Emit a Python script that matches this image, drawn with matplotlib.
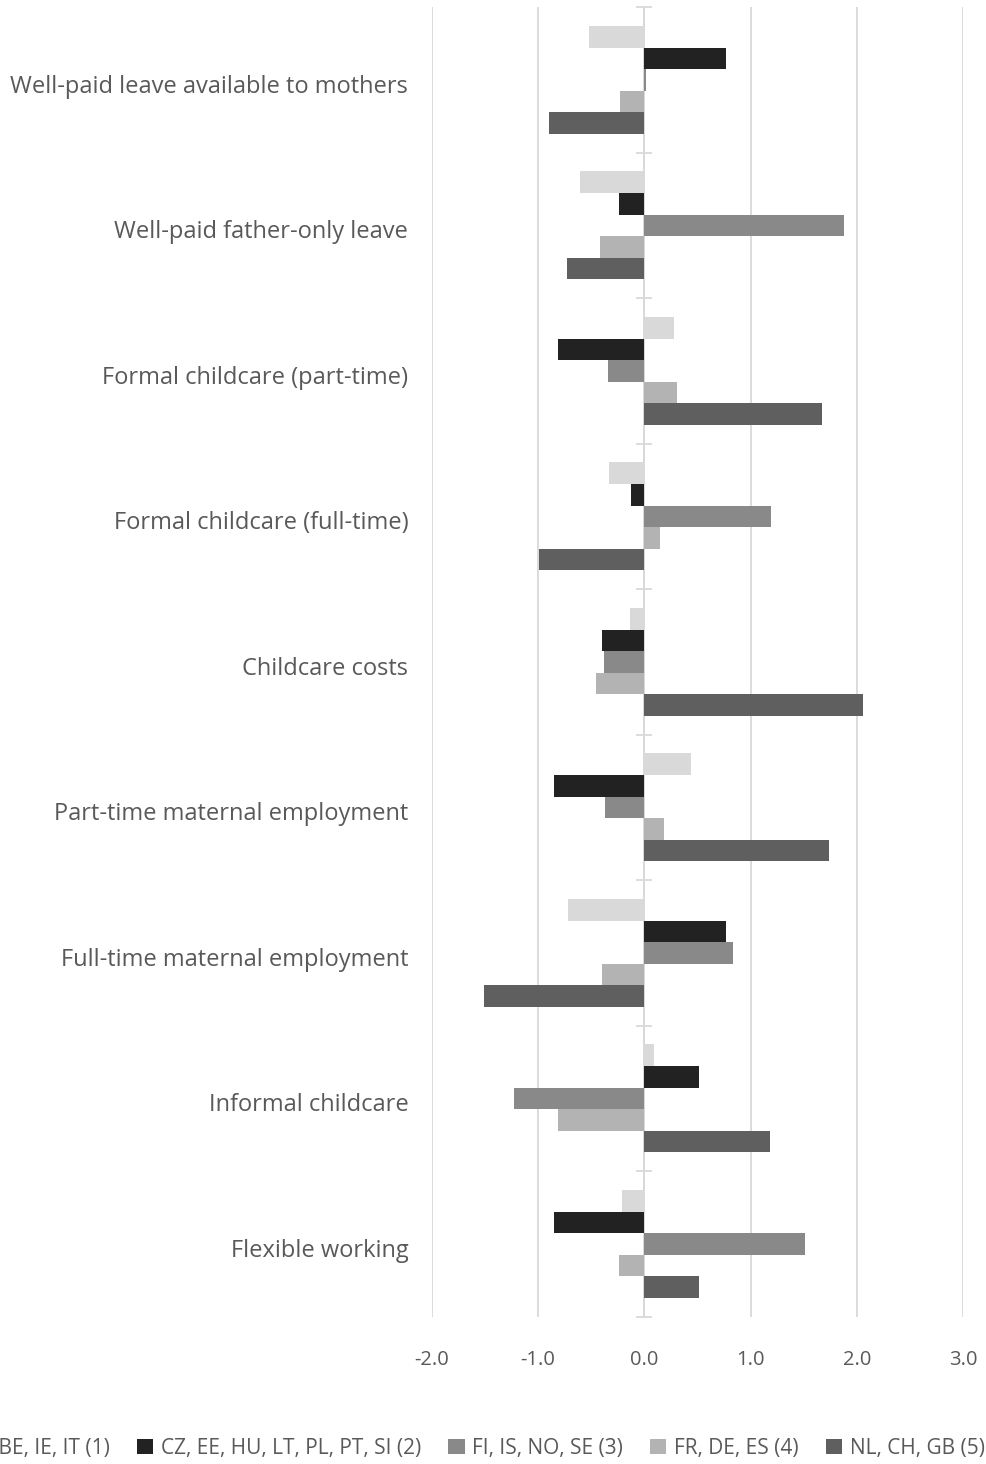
import matplotlib.pyplot as plt
from matplotlib.transforms import ScaledTranslation
import numpy as np

plt.rcParams['font.family'] = ['Open Sans', 'DejaVu Sans']

categories = [
    "Well-paid leave available to mothers",
    "Well-paid father-only leave",
    "Formal childcare (part-time)",
    "Formal childcare (full-time)",
    "Childcare costs",
    "Part-time maternal employment",
    "Full-time maternal employment",
    "Informal childcare",
    "Flexible working",
]

series_names = [
    "AT, BE, IE, IT (1)",
    "CZ, EE, HU, LT, PL, PT, SI (2)",
    "FI, IS, NO, SE (3)",
    "FR, DE, ES (4)",
    "NL, CH, GB (5)",
]

group1 = [-0.52, -0.61, 0.28, -0.33, -0.14, 0.44, -0.72, 0.09, -0.21]
group2 = [0.77, -0.24, -0.81, -0.13, -0.40, -0.85, 0.77, 0.51, -0.85]
group3 = [0.01, 1.88, -0.34, 1.19, -0.38, -0.37, 0.83, -1.23, 1.51]
group4 = [-0.23, -0.42, 0.31, 0.15, -0.46, 0.18, -0.40, -0.81, -0.24]
group5 = [-0.90, -0.73, 1.67, -0.99, 2.06, 1.74, -1.51, 1.18, 0.51]

series = [group1, group2, group3, group4, group5]
colors = ['#d9d9d9', '#222222', '#898989', '#b3b3b3', '#5f5f5f']
text_color = '#595959'
grid_color = '#d9d9d9'

fig = plt.figure(figsize=(9.86, 14.64), dpi=100)
ax = fig.add_axes([0.438, 0.1006, 0.539, 0.8945])

y = np.arange(len(categories))
h = 0.1485
for j, (vals, c) in enumerate(zip(series, colors)):
    ax.barh(y + (j - 2) * h, vals, height=h, color=c, label=series_names[j], zorder=3)

ax.set_xlim(-2, 3)
ax.set_ylim(len(categories) - 0.5, -0.5)
ax.set_xticks(np.arange(-2, 4, 1))
ax.set_xticklabels([f"{v:.1f}" for v in np.arange(-2, 4, 1)])
ax.set_yticks(y)
ax.set_yticklabels(categories)
ax.tick_params(axis='y', length=0, pad=17, labelsize=17, labelcolor=text_color)
ax.tick_params(axis='x', length=0, pad=24, labelsize=14.5, labelcolor=text_color)

# nudge category labels down a little
shift = ScaledTranslation(0, -0.04, fig.dpi_scale_trans)
for lbl in ax.get_yticklabels():
    lbl.set_transform(lbl.get_transform() + shift)

ax.grid(axis='x', color=grid_color, linewidth=1.3, zorder=0)
for s in ax.spines.values():
    s.set_visible(False)

# vertical axis line at zero with tick marks between categories
zero_ax = ax.secondary_yaxis(0.4)
zero_ax.spines['left'].set_color(grid_color)
zero_ax.spines['left'].set_linewidth(1.3)
zero_ax.set_yticks(np.arange(-0.5, len(categories), 1))
zero_ax.set_yticklabels([])
zero_ax.tick_params(axis='y', direction='inout', length=11.5, width=1.3, color=grid_color)

fig.legend(loc='center right', bbox_to_anchor=(0.999, 0.0106), ncol=5, frameon=False,
           fontsize=15, handlelength=0.77, handleheight=0.77, handletextpad=0.38,
           columnspacing=1.3, borderaxespad=0, borderpad=0, labelcolor=text_color)

fig.savefig('out.png', dpi=100)
